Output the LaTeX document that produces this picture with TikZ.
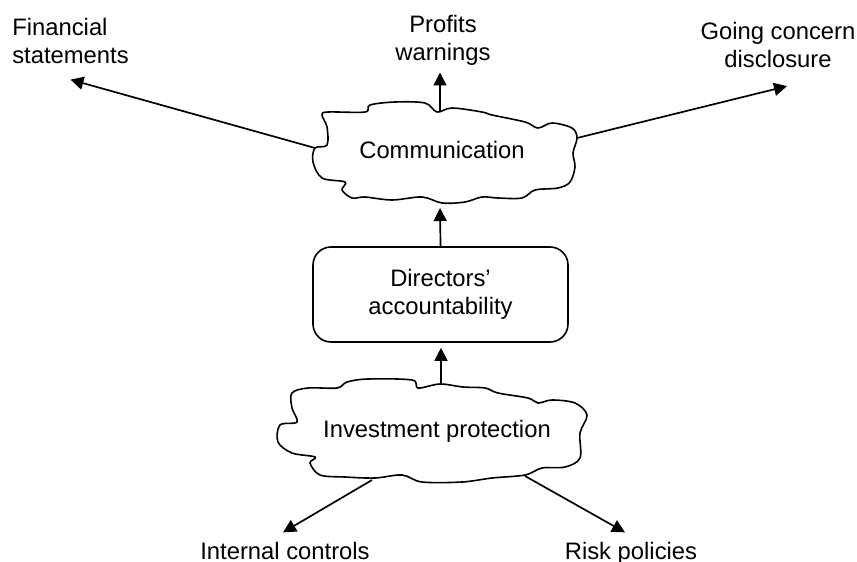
\documentclass[tikz,border=0pt]{standalone}
\usepackage{fontspec}
\setmainfont{Liberation Sans}
\usetikzlibrary{arrows.meta}

\begin{document}
\begin{tikzpicture}[x=0.5pt,y=-0.5pt,
		lbl/.style={inner sep=0pt,font=\fontsize{11.9}{14}\selectfont,align=center},
		arr/.style={line width=0.85pt,-{Triangle[length=6.5pt,width=6.5pt]}},
		blob/.style={line width=0.8pt,smooth cycle,tension=0.55}]
			\useasboundingbox (0,0) rectangle (857,562);
			% wavy outlines
			\draw[blob] plot coordinates {(322,115) (328,112) (365,112) (370,105) (395,102) (425,103) (437,112) (452,108) (482,112) (492,115) (525,122) (538,128) (552,123) (572,128) (577,138) (573,153) (575,167) (570,182) (558,188) (535,190) (522,198) (498,198) (482,197) (465,202) (442,203) (422,197) (392,200) (365,197) (352,198) (342,190) (345,182) (322,178) (313,162) (315,148) (327,145) (327,127)};
			\draw[blob] plot coordinates {(292,393) (308,388) (337,388) (347,382) (368,379) (412,380) (418,388) (440,384) (463,387) (485,388) (498,393) (528,398) (538,403) (552,400) (575,403) (587,415) (580,433) (580,458) (565,467) (542,468) (525,475) (492,478) (462,482) (422,482) (402,475) (375,478) (345,477) (320,475) (310,463) (315,457) (292,453) (278,442) (280,425) (297,422) (292,408)};
			\node[lbl,anchor=base] (comm) at (442,158) {Communication};
			\node[lbl,anchor=base] (inv) at (437,437) {Investment protection};
			\node[lbl,draw,line width=0.8pt,rounded corners=9pt,minimum width=127.5pt,minimum height=47.5pt] (dir) at (440.5,294.5) {Directors’\\accountability};
			\node[lbl,align=left] (fin) at (70.5,40.5) {Financial\\statements};
			\node[lbl] (prof) at (443,40) {Profits\\warnings};
			\node[lbl] (go) at (778,45) {Going concern\\disclosure};
			\node[lbl,anchor=base] (ic) at (285,559) {Internal controls};
			\node[lbl,anchor=base] (rp) at (631,559) {Risk policies};
			% ends on the outlines
			\coordinate (commN) at (440,112);
			\coordinate (commW) at (315,148);
			\coordinate (commE) at (577,138);
			\coordinate (commS) at (440,203);
			\coordinate (invN) at (441,384);
			\coordinate (invSW) at (372,480);
			\coordinate (invSE) at (525,476);
			\draw[arr] (commN)--([yshift=-3.5pt]commN |- prof.south);
			\draw[arr] (commW)--([yshift=-8pt]fin.south);
			\draw[arr] (commE)--([xshift=4.5pt,yshift=-9pt]go.south);
			\draw[arr,shorten >=2.5pt] (dir.north)--(commS);
			\draw[arr,shorten >=2.5pt] (invN)--(invN |- dir.south);
			\draw[arr] (invSW)--([xshift=-1pt,yshift=4.5pt]ic.north);
			\draw[arr] (invSE)--([xshift=-3pt,yshift=4.5pt]rp.north);
		\end{tikzpicture}
\end{document}
